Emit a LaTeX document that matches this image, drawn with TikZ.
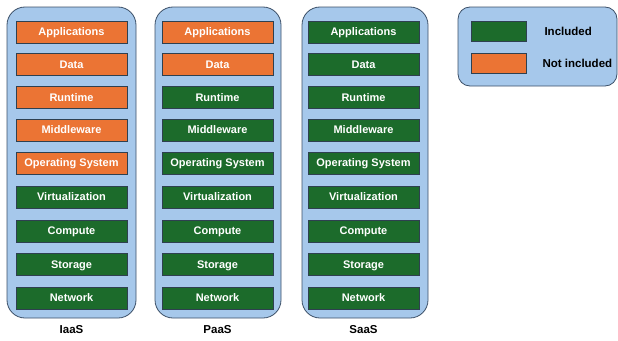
\documentclass[tikz,border=0pt]{standalone}
\usepackage{fontspec}
\setmainfont{Liberation Sans}
\definecolor{panelblue}{HTML}{A6C8EB}
\definecolor{paneledge}{HTML}{3C5068}
\definecolor{incl}{HTML}{1C6B2B}
\definecolor{notincl}{HTML}{EB7434}
\definecolor{boxedge}{HTML}{2E4050}
\begin{document}
\begin{tikzpicture}[x=1pt,y=-1pt,
  panel/.style={draw=paneledge,fill=panelblue,line width=0.8pt,rounded corners=18pt},
  layer/.style={draw=boxedge,line width=0.6pt,minimum width=111pt,minimum height=22pt,inner sep=0pt,
    text=white,text height=8pt,text depth=1pt,font=\fontsize{11}{12}\selectfont\bfseries},
  inc/.style={layer,fill=incl},
  notinc/.style={layer,fill=notincl},
  lab/.style={font=\fontsize{11.5}{13}\selectfont\bfseries,text=black}]
\useasboundingbox (0,0) rectangle (618,340);
% panels
\draw[panel] (7,7) rectangle (136,318);
\draw[panel] (155,7) rectangle (281,318);
\draw[panel] (302,7) rectangle (428,318);
\draw[panel,rounded corners=12pt] (458,7) rectangle (617,86);
% layers
\def\names{Applications,Data,Runtime,Middleware,Operating System,Virtualization,Compute,Storage,Network}
\def\ys{{32,64.5,97.5,130,163,197,231,264.5,298}}
\foreach \n [count=\i] in \names {
  \pgfmathsetmacro\yy{\ys[\i-1]}
  \ifnum\i<6 \def\sa{notinc}\else\def\sa{inc}\fi
  \ifnum\i<3 \def\sb{notinc}\else\def\sb{inc}\fi
  \node[\sa] (i\i) at (71.5,\yy) {\n};
  \node[\sb] (p\i) at (217.5,\yy) {\n};
  \node[inc] (s\i) at (363.5,\yy) {\n};
}
\node[lab] (li) at (71.5,330) {IaaS};
\node[lab] (lp) at (217.5,330) {PaaS};
\node[lab] (ls) at (363.5,330) {SaaS};
% legend
\node[inc,minimum width=55pt,minimum height=20pt] (gi) at (498.5,31) {};
\node[notinc,minimum width=55pt,minimum height=20pt] (gn) at (498.5,63) {};
\node[lab,anchor=west] (ti) at (541,31) {Included};
\node[lab,anchor=west] (tn) at (539,63) {Not included};
\end{tikzpicture}
\end{document}
